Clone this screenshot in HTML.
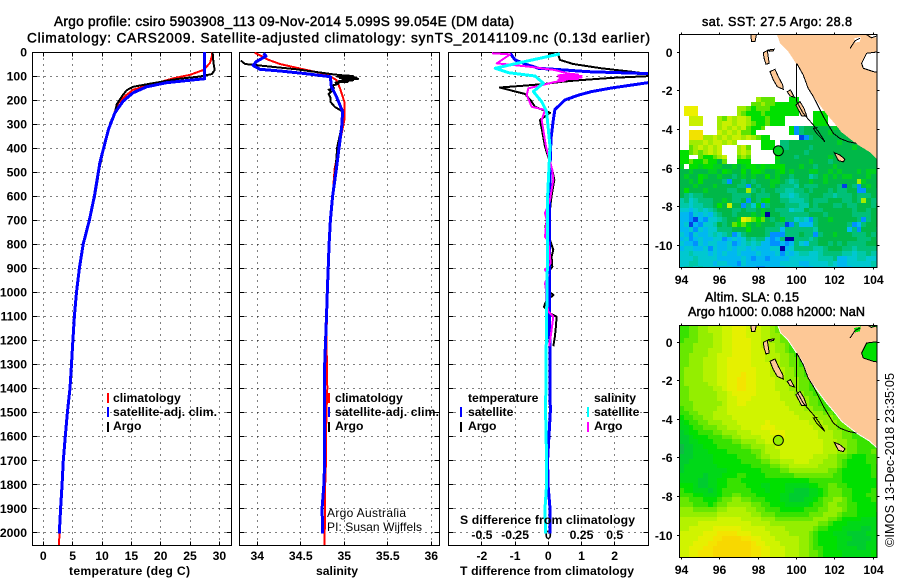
<!DOCTYPE html>
<html>
<head>
<meta charset="utf-8">
<title>Argo profile csiro 5903908_113</title>
<style>
html,body{margin:0;padding:0;background:#fff;width:900px;height:580px;overflow:hidden}
svg{display:block}
text{font-family:"Liberation Sans",sans-serif;fill:#000}
.b{font-weight:bold;font-size:12.2px}
.t{font-size:13.6px;stroke:#000;stroke-width:.45px}
.r{font-size:12px}
</style>
</head>
<body>
<svg id="chart" xmlns="http://www.w3.org/2000/svg" width="900" height="580" viewBox="0 0 900 580">
<defs>
<clipPath id="clip-temp"><rect x="32" y="52" width="199" height="493"/></clipPath>
<clipPath id="clip-sal"><rect x="239" y="52" width="200" height="493"/></clipPath>
<clipPath id="clip-diff"><rect x="448" y="52" width="200" height="493"/></clipPath>
<clipPath id="clip-map1"><rect x="679" y="34" width="198" height="233"/></clipPath>
<clipPath id="clip-map2"><rect x="679" y="325" width="198" height="232"/></clipPath>
</defs>
<g id="layer-maps"></g>
<g id="layer-panels"></g>

<text class="t" x="54" y="26" textLength="460">Argo profile: csiro 5903908_113 09-Nov-2014 5.099S 99.054E (DM data)</text>
<text class="t" x="27" y="42.5" textLength="623">Climatology: CARS2009. Satellite-adjusted climatology: synTS_20141109.nc (0.13d earlier)</text>

<text class="b" x="69" y="575" textLength="121">temperature (deg C)</text>
<text class="b" x="316" y="575" textLength="42">salinity</text>
<text class="b" x="460" y="575" textLength="174">T difference from climatology</text>
<text class="b" x="460" y="524" textLength="175">S difference from climatology</text>

<g>
<rect x="107" y="393" width="2" height="10" fill="#f00"/>
<rect x="107" y="407" width="2" height="10" fill="#00f"/>
<rect x="107" y="422" width="2" height="10" fill="#000"/>
<text class="b" x="113" y="402">climatology</text>
<text class="b" x="113" y="416" textLength="104">satellite-adj. clim.</text>
<text class="b" x="113" y="430">Argo</text>
</g>
<g>
<rect x="328" y="393" width="2" height="10" fill="#f00"/>
<rect x="328" y="407" width="2" height="10" fill="#00f"/>
<rect x="328" y="422" width="2" height="10" fill="#000"/>
<text class="b" x="335" y="402">climatology</text>
<text class="b" x="335" y="416" textLength="104">satellite-adj. clim.</text>
<text class="b" x="335" y="430">Argo</text>
</g>
<g>
<text class="b" x="468" y="402">temperature</text>
<rect x="460" y="407" width="2" height="10" fill="#00f"/>
<rect x="460" y="422" width="2" height="10" fill="#000"/>
<text class="b" x="468" y="416">satellite</text>
<text class="b" x="468" y="430">Argo</text>
<text class="b" x="594" y="402">salinity</text>
<rect x="587" y="407" width="2" height="10" fill="#0ff"/>
<rect x="587" y="422" width="2" height="10" fill="#f0f"/>
<text class="b" x="594" y="416">satellite</text>
<text class="b" x="594" y="430">Argo</text>
</g>
<text class="r" x="327" y="517" textLength="79">Argo Australia</text>
<text class="r" x="327" y="531" textLength="95">PI: Susan Wijffels</text>

<text class="t" style="font-size:12.6px" x="702" y="26" textLength="150">sat. SST: 27.5 Argo: 28.8</text>
<text class="t" style="font-size:12.6px" x="705" y="301.5" textLength="94">Altim. SLA: 0.15</text>
<text class="t" style="font-size:12.6px" x="688" y="316" textLength="177">Argo h1000: 0.088 h2000: NaN</text>
<text style="font-size:12.6px" transform="translate(894,547) rotate(-90)" textLength="174">©IMOS 13-Dec-2018 23:35:05</text>
</svg>

<script>
// ---------- profile data ----------
const depthTicks = [0,100,200,300,400,500,600,700,800,900,1000,1100,1200,1300,1400,1500,1600,1700,1800,1900,2000];
const tempTicks = [0,5,10,15,20,25,30];
const salTicks = [34,34.5,35,35.5,36];
const salTickLabels = ['34','34.5','35','35.5','36'];
const diffTicks = [-2,-1,0,1,2];
const diffTickLabels = ['-2','-1','0','1','2'];
const sDiffTicks = [-0.5,-0.25,0,0.25,0.5];
const sDiffTickLabels = ['-0.5','-0.25','0','0.25','0.5'];

const tempClimDepth = [0,18,46,75,95,110,137,157,184,212,260,322,460,600,700,800,900,1000,1100,1200,1300,1400,1500,1600,1700,1800,1900,2000,2053];
const tempClim = [28.7,28.7,28.4,27.25,25,22.1,18.2,15.3,13.9,12.8,12,11.1,9.65,8.7,7.85,6.8,6.15,5.65,5.3,5.05,4.8,4.55,4.1,3.75,3.4,3.2,2.95,2.75,2.7];
const tempArgoDepth = [0,18,46,75,92,102,113,132,145,159,184,218,253,295,350,475,600,700,800,900,1000,1100,1225];
const tempArgo = [28.85,28.9,29,29.2,28.7,26.7,22.7,18.2,15.3,14.2,13.4,12.5,12.2,11.4,10.8,9.65,8.8,7.85,6.8,6.15,5.65,5.3,5.05];
const tempSatDepth = [0,111,128,145,170,205,253,322,460,600,700,800,900,1000,1100,1200,1300,1400,1500,1600,1700,1800,1900,2005];
const tempSat = [27.5,27.5,21,17.6,15.3,13.6,12.2,11.1,9.65,8.7,7.85,6.8,6.15,5.65,5.3,5.05,4.8,4.55,4.1,3.75,3.4,3.2,2.95,2.72];

const salClimDepth = [3,33,50,72,93,117,151,207,283,339,484,600,700,800,900,1000,1100,1200,1300,1400,1500,1600,1700,1800,1900,2000,2053];
const salClim = [33.97,34.13,34.26,34.53,34.8,34.91,34.95,35,35,34.97,34.89,34.865,34.845,34.83,34.815,34.81,34.8,34.795,34.8,34.805,34.795,34.79,34.79,34.78,34.78,34.775,34.77];
const salArgoDepth = [36,50,72,93,96,100,103,106,109,112,115,118,121,124,127,133,140,150,157,165,175,190,207,228,248,311,394,484,600,700,800,900,1000,1100,1225];
const salArgo = [33.81,33.86,34.45,34.87,34.95,35.1,34.92,35.14,34.95,35.16,34.98,35.1,34.94,35.04,34.9,34.93,34.86,34.88,34.82,34.85,34.82,34.84,34.84,34.89,34.98,34.97,34.92,34.9,34.865,34.84,34.825,34.815,34.805,34.795,34.79];
const salSatDepth = [5,17,40,56,72,79,89,103,144,186,248,311,484,600,700,800,900,1000,1100,1200,1300,1400,1500,1600,1700,1800,1900,2005];
const salSat = [34.07,34.1,33.99,33.95,34.03,34.26,34.53,34.84,34.85,34.91,34.98,34.97,34.91,34.865,34.84,34.825,34.815,34.805,34.795,34.785,34.775,34.77,34.775,34.775,34.775,34.765,34.745,34.75];

const diffTArgoDepth = [5,12,33,50,68,82,93,100,108,118,124,133,140,148,152,175,207,228,253,283,318,394,491,533,574,616,658,699,727,755,782,824,852,894,907,935,963,991,1012,1039,1060,1088,1102,1143,1185,1225];
const diffTArgo = [0,.3,.35,.75,1.6,2.5,3.1,3.1,1.9,.9,.4,-.1,-.7,-1.46,-1.35,-.7,-.5,-.4,.05,-.25,-.2,-.1,.12,.18,.13,.08,.05,-.03,-.09,0,.05,.15,.1,.12,.05,0,-.07,-.03,.15,-.07,-.13,.05,.25,.23,.2,.15];
const diffTSatDepth = [5,33,50,68,75,82,90,95,125,128,150,165,180,200,240,283,360,484,700,1000,1300,1500,1700,1800,1900,2005];
const diffTSat = [-1.15,-1,-.7,-.3,.5,1.2,3,3.2,3.2,3,1.9,1.3,.9,.5,.2,.15,.08,.05,.04,.03,.05,.06,-.02,-.01,.05,.05];
const diffSArgoDepth = [5,10,47,61,75,90,94,97,100,103,106,109,112,115,119,125,151,179,228,241,283,394,491,533,574,616,671,699,769,790,824,880,907,928,963,991,1032,1081,1102,1157,1225];
const diffSArgo = [-1.7,-1.15,-1.55,-.6,.2,.6,.9,.3,1,.3,1,.35,.9,.3,.5,.2,-.6,-.65,-.5,-.1,-.2,-.07,.12,.15,.1,.05,-.1,-.05,-.1,0,.03,.07,-.1,0,-.1,-.07,-.07,0,.15,.1,.03];
const diffSSatDepth = [8,44,68,86,100,130,165,207,248,394,600,900,1200,1500,1700,1800,1900,2005];
const diffSSat = [.35,-.85,-1.6,-1.2,-.4,-.15,-.45,-.2,-.05,.05,-.02,-.03,-.06,-.08,-.05,-.05,-.1,-.08];

// ---------- map data: rows north to south, 0.25 degree cells, letters are colour levels ----------
const sstLevels = {o:'#f2e200',a:'#ecf000',b:'#c8f000',c:'#a0ec00',d:'#60e400',e:'#00e000',f:'#00d020',g:'#00b848',h:'#00c078',i:'#00c8a8',j:'#00c8d0',k:'#00b8f0',l:'#0090ff',m:'#0040e8',n:'#0000a0'};
const sstRows = ['','','','','','','','','','','','','',
"................cddd...ee.",
"...............ddcddeeeee.",
".aaa........ccdedddeeeeee.",
".aaa........cdeeedeeeeeee...eee.",
"..bbb...cdbcbbceeedeee......eee.",
"..bbb...cbbcbbcdeedeee......eee.",
"........cbcbcbdeed.....elhggggggfg.",
"..ooo...bcbcbdde.......elhgggggfggg.",
"..oooccbcbcbbcbcdee......mlhggggggggfggg.",
"..cccbcbbcbc.....eee.hhggggggggggfgggggggg",
"..dcbcbcb...cbd..eee.hhgggghggggggggfgggggg",
"eedcdcbcb...cbc.....eggggghgggggggggggggggg",
"ee..deedcb..dcd.....eggghggggggfggggggggggg",
"eedeedeegd..eee.....fggggggfggghggggggggggg",
"f.eefeeffggfgfeefefeeegggfgghgggfgggggggggg",
"ggfgggffgefggegeefggfegfgggffggfgfgggfgffggg",
"gfggefggfgghgfgfggegfgghgggihgfgfgffgggfgggg",
"ggfgegggghlgghghgggffghihggfggfggggggcfggggg",
"gggfgggfgggghhlghggfghhhighhhgggghmghlgfgggg",
"gegggfgggghhggchghgghhiihhghggghghhggllgghgg",
"ghihhgggggghhhhghhhggiijihhggghhihhhghhhghgg",
"ihjihhhggfghhglghfegghhiiihghhhggghhghcghhfg",
"iijiihhgegbgglhjflhggghhhiighggghhghhggghgee",
"jjkjijihggghhghhgfgghhhjiighhhgggggghgghggee",
"kkljkjkihgghgggfgfngghhhhhhggghggggghhhhgggg",
"kklmkljjihggfabdedghgfhhjijlhggfggggghlhgggg",
"kjmkljjighgdedfgfggghhmlhkkkhgggggghlkhggggg",
"kkjljkjjhhhgggeggghhhkhhhhhhiggggggkhlggghgg",
"jkljkkjijihljhgggghlllhhhghhlhggfggghhhghggg",
"kjlkjkkjjlkjkjhihhklkhnnhhhihgggggggghhhghhh",
"jkkljkjjkkjlkjijikkllklkhjkhhgghghghhhhggggg",
"kjjkkjljkkjkjjkjkkkjjnkjhhhhiihggghhihhhhhhh",
"jjijjjkjkjkkjkkkjkkkjljkjiijjihhhhiijiihijjj",
"jjjijjjjkkkkkjklkklkkkkjjjjjjiiihkkjjiijjjjj",
"jjiijjjkjjkkljkkkkkkkjjjjkkjjjjijkkjjjjjijjj",
"jiijijjjkkjkkkkkllkkkkjjjjkkjjjjjkkkjjjjiiii"
];
const slaLevels = {A:'#f8d800',B:'#f4e400',C:'#e6f000',D:'#d0f400',E:'#b4f200',F:'#94ee00',G:'#68e800',H:'#38e200',I:'#00e000',J:'#00d818',K:'#00cc30',L:'#10b848'};
const slaRows = [
"HHGGFFEEEDDCCCDDDEEFGGHHHHHHHHHHHHHHIIIIIIII",
"HHGGFFEEEDDCCCDDDEEFGGHHHHHHHHHHHHHHIIIIIIII",
"HHGGFFFEEDDCCCDDDEEFFGHHHHHHHHHHHHHHIIIIIIII",
"HGGGFFFEEDDCCCCDDEEFFGGHHHHHHHHHHHHHIIIIIIII",
"GGGFFFFEEDDCCCCDDEEEFFGHHHHHHHHHHHHHIIIIIIII",
"GGGFFFEEEDDCCCCDDDEEFFGHHHHHHHHHHHHHIIIIIIII",
"GGFFFFEEDDDCCCCDDDEEEFFGHHHHHHHHHHHHIIIIIIII",
"GGFFFEEEDDCCCCCDDDEEEFFGGHHHHHHHHHHHIIIIIIII",
"GGFFFEEEDDCCCCCDDDDEEFFGGHHHHHHHHHHHHHHHHHHH",
"GFFFFEEEDDCCCCCCDDDEEEFFGGH",
"GFFFFEEEDDCCCBCCDDDEEEFFGGH",
"GFFFFEEEDDCCBBCCDDDDEEFFFGGH",
"GFFFFFEEDDCCBBCCDDDDEEEFFGGH",
"GGFFFFFEEDCCBBCCDDDDEEEFFGGHH",
"GGFFFFFFEEDCCCCCDDDDDEEEFFGGHH",
"GGFFFFFFEEDDCCCDDDDDDEEEEFFGGH",
"GGGFFFFFFEDDCCDDDDDDDDEEEFFGGHH",
"HGGFFFFFEEDDDDDDDDDDDDDEEEFFGGHH",
"HHGGFFFEEEDDDDDDDDDDDDDDEEEEFFGGHH",
"IHHGGFFEEEEDDDDDDDDDDDDDDEEEEFFFGGHH",
"JIHHGGFFFEEEDDDDDDCDDDDDDDDEEEFFFGGHHH",
"JJIHHGGGFFEEEDDDDCCCDDDDDDDDEEEFFGGGHHHH",
"KJIIHHHGGFFFEEEDDDDCCCDDDDDDDEEEFFGGHHHIIH",
"KKJIIIHHHGGFFEEEEDDDDCDDDDDDDEEEFFGGHHHHHHGG",
"KKJJIIIHHHHGGFFFEEDDDDDDDDDDDDEEEFFGGHHHGGF",
"LKKJJIIIHHHHHGGFFFEEDDDDDDDDDDEEEFFGGHHHHGFFE",
"LKKJJJIIIIHHHHHGGFEEEDDDDDDDDDEEEFFGGHHHGGFE",
"KKKJJJJIIIIIHHHHGFFEEDDDDDDDEEEFFGGHIIIHHGFE",
"KKJJJJJIIIIIIHHHHGGFFEEEDDDEEEFFFGHIIIIHHGGF",
"KJJJJJJJIIIIIIIHHHHGGFFEEEEEEFFFFGHIIIIIHHGGF",
"KJJJJJJJJJIIIIIIIHHHHGGFFFFFFFFGGHIIIIIIHHGG",
"JJJJJKJJJIIIHHIIIIHHHHHHGGGGGGGGHHIIIIIIHHGG",
"JJJJKKJJIIHHHIIIIIIIIIIIIIIHHHHHHHIIIIIIIHHH",
"IIIJKKJJIIHHHHIIIJJIIIJJJJJIIHHGGHHIIIIIIHHG",
"HIIJJJKJIHHHHHHIIIJIIIJJKKKJJIHGGGHHIIIIHHGG",
"HHHIIJJJIHHGGHHHIIIIIJJKKKKJJIHGGGHHIIIHHHGG",
"GGHHHIIIHGGFFGGHHHIIIJJKKKJJIHGGFFGHIIIIHHHG",
"GGGHHHIHGGFFFFFGGHHIIIJJJJJIHHGFFGGHHIIIIHHH",
"FFFGGGGGFFEEEEFFGGHHHIIIIIHHHGGFFFGHHIIIIHHH",
"FFFFFFFFEEEEEEEFFGGGHHHHHHHGGGFFFGHHHIIIIIHH",
"EEEEEEEEDDDDDEEEEFFFGGGGGGGGFFFGGHIIIIJJJIIH",
"EEEEDDDDDDDDDDDEEEEFFFFFFFFFFGGHIIIJJJJJJIIH",
"EEDDDDDCCCCCCDDDDDEEEEFFFFFFGHHIIIJJJJKKJJIH",
"DDDDDCCCBBBBCCCDDDDEEEEFFFFGHIIIJJJKKKKJJIH",
"DDDDCCCBBAAAABBCCDDDEEEEEFFGHIIIIJJJKKKKJJI",
"DDDCCCBBAAAAAAABCCDDDEEEEFFGHIIIIJJKKKKJJJI",
"DDCCCBBAAAAAAAABBCCDDDEEEFFGHHIIIJJJJKKJJII",
"DDCCBBBAAAAAAAABBCCDDDEEEFFGGHIIIIJJJJJJIII",
"DDCCBBBAAAAAAAABBCCDDDEEEFFGGHIIIIJJJJJJIII"
];
const mapLonTicks = [94,96,98,100,102,104];
const mapLatTicks = [0,-2,-4,-6,-8,-10];
const floatLon = 99.054;
const floatLat = -5.099;

// coast shapes as lon,lat pairs
const mainlandCoast = [[99,.95],[99.17,.47],[99.57,.09],[100,-.57],[100.35,-1.09],[100.61,-1.87],[101.05,-2.47],[101.57,-3.16],[102.09,-3.77],[102.35,-4.11],[103.13,-4.72],[103.83,-5.15],[104.19,-5.49],[104.3,-5.49],[104.3,.95]];
const straitCoast = [[104.3,.03],[103.65,-.05],[103.39,-.57],[103.48,-.83],[104,-1],[104.3,-1.05]];
const northWaterPatches = [
 [[103.0,.72],[103.35,.8],[103.3,.55],[103.05,.5]],
 [[103.75,.95],[104.25,.95],[104.25,.75],[103.9,.8]]
];
const islandShapes = [
 [[98.62,-1],[98.88,-.88],[99.05,-1.26],[99.28,-1.69],[99.31,-1.92],[99,-1.78],[98.79,-1.43]],
 [[99.52,-2.04],[99.69,-1.95],[99.89,-2.33],[99.66,-2.26]],
 [[99.97,-2.73],[100.18,-2.56],[100.39,-2.9],[100.53,-3.3],[100.27,-3.3]],
 [[98.27,-.02],[98.48,.09],[98.58,-.57],[98.41,-.62],[98.31,-.31]],
 [[97.61,.95],[97.92,.95],[97.84,.55],[97.66,.55]],
 [[98.53,.12],[98.84,.16],[98.79,.07],[98.58,.05]],
 [[101.97,-5.2],[102.26,-5.32],[102.52,-5.54],[102.44,-5.68],[102.18,-5.61]]
];
const contourLines = [
 [[100.01,-.57],[100.01,-2.56]],
 [[100.01,-.57],[100.35,-1.17],[100.61,-1.87],[100.88,-2.3],[101.19,-2.9],[101.4,-3.33],[101.66,-3.77],[101.92,-4.2],[102.26,-4.46],[102.7,-4.63],[103.13,-4.72]],
 [[100.01,-2.56],[100.35,-3.16],[100.88,-3.77],[101.14,-4.11],[101.48,-4.63],[101.05,-4.2],[100.88,-3.94],[101.1,-3.9]],
 [[103.31,.73],[103.05,.6],[102.79,.2]],
 [[103.6,.95],[103.9,.75],[104.2,.85]]
];

// ---------- drawing ----------
const NS = 'http://www.w3.org/2000/svg';
const maps = document.getElementById('layer-maps');
const panels = document.getElementById('layer-panels');
function yDepth(d){return 52+0.24015*d;}
function xTemp(t){return 43.3+5.87*t;}
function xSal(s){return 344.3+87*(s-35);}
function xDiff(v){return 548.3+33.2*v;}
function xSDiff(v){return 548.3+132.8*v;}
function snap(v){return Math.round(v-.5)+.5;}

function seg(parent,x1,y1,x2,y2,dash,name){
  const el=document.createElementNS(NS,'line');
  el.setAttribute('x1',x1);el.setAttribute('y1',y1);el.setAttribute('x2',x2);el.setAttribute('y2',y2);
  el.setAttribute('stroke','#000');el.setAttribute('stroke-width','1');el.setAttribute('shape-rendering','crispEdges');
  if(dash)el.setAttribute('stroke-dasharray',dash);
  
  
  parent.appendChild(el);
}
function label(parent,x,y,str,anchor,name){
  const el=document.createElementNS(NS,'text');
  el.setAttribute('x',x);el.setAttribute('y',y);el.setAttribute('class','b');el.setAttribute('text-anchor',anchor);
  el.textContent=str;
  
  
  parent.appendChild(el);
}
function frame(parent,x,y,w,h,name){
  const el=document.createElementNS(NS,'rect');
  el.setAttribute('x',x);el.setAttribute('y',y);el.setAttribute('width',w);el.setAttribute('height',h);
  el.setAttribute('fill','none');el.setAttribute('stroke','#000');el.setAttribute('shape-rendering','crispEdges');
  
  
  parent.appendChild(el);
}
function profile(parent,depths,vals,xf,color,width,clip,name){
  const el=document.createElementNS(NS,'polyline');
  el.setAttribute('points',depths.map((d,i)=>xf(vals[i]).toFixed(1)+','+yDepth(d).toFixed(1)).join(' '));
  el.setAttribute('fill','none');el.setAttribute('stroke',color);el.setAttribute('stroke-width',width);
  el.setAttribute('stroke-linejoin','round');el.setAttribute('shape-rendering','crispEdges');
  el.setAttribute('clip-path','url(#'+clip+')');
  
  
  parent.appendChild(el);
}
function panelAxes(left,right,xTickPositions,name){
  const g=document.createElementNS(NS,'g');
  
  
  panels.appendChild(g);
  const top=52.5,bottom=545.5;
  xTickPositions.forEach(px=>{
    const x=snap(px);
    seg(g,x,top,x,bottom,'1 5','vertical-gridline');
    seg(g,x,top,x,top+4,null,'x-tick');
    seg(g,x,bottom-4,x,bottom,null,'x-tick');
  });
  depthTicks.forEach(d=>{
    const y=snap(yDepth(d));
    seg(g,left,y,right,y,'1 5','horizontal-gridline');
    seg(g,left,y,left+5,y,null,'y-tick');
    seg(g,right-5,y,right,y,null,'y-tick');
  });
  frame(g,left,top,right-left,bottom-top,'panel-frame');
  return g;
}

// temperature panel
const gT=panelAxes(32.5,231.5,tempTicks.map(xTemp),'temperature-panel');
depthTicks.forEach(d=>label(gT,27,yDepth(d)+4.5,String(d),'end','depth-tick-label'));
tempTicks.forEach(t=>label(gT,xTemp(t),560,String(t),'middle','temperature-tick-label'));
profile(gT,tempClimDepth,tempClim,xTemp,'#f00',2,'clip-temp','temperature-climatology-line');
profile(gT,tempArgoDepth,tempArgo,xTemp,'#000',2,'clip-temp','temperature-argo-line');
profile(gT,tempSatDepth,tempSat,xTemp,'#00f',3,'clip-temp','temperature-satellite-line');

// salinity panel
const gS=panelAxes(239.5,439.5,salTicks.map(xSal),'salinity-panel');
salTicks.forEach((s,i)=>label(gS,xSal(s),560,salTickLabels[i],'middle','salinity-tick-label'));
profile(gS,salClimDepth,salClim,xSal,'#f00',2,'clip-sal','salinity-climatology-line');
profile(gS,salArgoDepth,salArgo,xSal,'#000',2,'clip-sal','salinity-argo-line');
profile(gS,salSatDepth,salSat,xSal,'#00f',3,'clip-sal','salinity-satellite-line');

// difference panel
const gD=panelAxes(448.5,648.5,diffTicks.map(xDiff),'difference-panel');
diffTicks.forEach((v,i)=>label(gD,xDiff(v),560,diffTickLabels[i],'middle','t-difference-tick-label'));
sDiffTicks.forEach((v,i)=>label(gD,xSDiff(v),539,sDiffTickLabels[i],'middle','s-difference-tick-label'));
profile(gD,diffTArgoDepth,diffTArgo,xDiff,'#000',2,'clip-diff','t-difference-argo-line');
profile(gD,diffTSatDepth,diffTSat,xDiff,'#00f',3,'clip-diff','t-difference-satellite-line');
profile(gD,diffSArgoDepth,diffSArgo,xDiff,'#f0f',2,'clip-diff','s-difference-argo-line');
profile(gD,diffSSatDepth,diffSSat,xDiff,'#0ff',3,'clip-diff','s-difference-satellite-line');

// maps
function drawMap(rows,levels,yZero,top,bottom,clip,circleFill,stripFill,coastHalo,cellName,mapName){
  const g=document.createElementNS(NS,'g');
  
  
  maps.appendChild(g);
  const xm=lon=>681.3+19.2*(lon-94);
  const ym=lat=>yZero-19.3*lat;
  const cells=document.createElementNS(NS,'g');
  cells.setAttribute('clip-path','url(#'+clip+')');
  cells.setAttribute('shape-rendering','crispEdges');
  g.appendChild(cells);
  rows.forEach((row,r)=>{
    for(let c=0;c<42&&row.length;c++){
      const ch=row[Math.min(c,row.length-1)];
      if(ch==='.'||!levels[ch])continue;
      const x0=Math.round(xm(93.875+.25*c)),x1=Math.round(xm(93.875+.25*(c+1)));
      const y0=Math.round(ym(.95-.25*r)),y1=Math.round(ym(.95-.25*(r+1)));
      const el=document.createElementNS(NS,'rect');
      el.setAttribute('x',x0);el.setAttribute('y',y0);el.setAttribute('width',x1-x0);el.setAttribute('height',y1-y0);
      el.setAttribute('fill',levels[ch]);
      
      
      cells.appendChild(el);
    }
  });
  const pts=a=>a.map(p=>xm(p[0]).toFixed(1)+','+ym(p[1]).toFixed(1)).join(' ');
  const shapes=document.createElementNS(NS,'g');
  shapes.setAttribute('clip-path','url(#'+clip+')');
  shapes.setAttribute('shape-rendering','crispEdges');
  g.appendChild(shapes);
  const land=document.createElementNS(NS,'polygon');
  land.setAttribute('points',pts(mainlandCoast));
  land.setAttribute('fill','#fdc896');
  land.setAttribute('stroke',coastHalo);
  
  
  shapes.appendChild(land);
  const strait=document.createElementNS(NS,'polygon');
  strait.setAttribute('points',pts(straitCoast));
  strait.setAttribute('fill',stripFill);
  strait.setAttribute('stroke','#fff');
  
  
  shapes.appendChild(strait);
  northWaterPatches.forEach(s=>{
    const el=document.createElementNS(NS,'polygon');
    el.setAttribute('points',pts(s));
    el.setAttribute('fill',stripFill);
    
    
    shapes.appendChild(el);
  });
  const straitEdge=document.createElementNS(NS,'polyline');
  straitEdge.setAttribute('points',pts(straitCoast));
  straitEdge.setAttribute('fill','none');
  straitEdge.setAttribute('stroke','#000');
  
  
  shapes.appendChild(straitEdge);
  islandShapes.forEach(s=>{
    const el=document.createElementNS(NS,'polygon');
    el.setAttribute('points',pts(s));
    el.setAttribute('fill','#fdc896');
    el.setAttribute('stroke','#000');
    
    
    shapes.appendChild(el);
  });
  contourLines.forEach(s=>{
    const el=document.createElementNS(NS,'polyline');
    el.setAttribute('points',pts(s));
    el.setAttribute('fill','none');
    el.setAttribute('stroke','#000');
    
    
    shapes.appendChild(el);
  });
  const dot=document.createElementNS(NS,'circle');
  dot.setAttribute('cx',xm(floatLon));dot.setAttribute('cy',ym(floatLat));dot.setAttribute('r','5');
  dot.setAttribute('fill',circleFill);dot.setAttribute('stroke','#000');
  
  
  g.appendChild(dot);
  frame(g,679.5,top,197.5,bottom-top,'map-frame');
  mapLonTicks.forEach(lon=>{
    const x=snap(xm(lon));
    seg(g,x,top-2,x,top,null,'longitude-tick');
    seg(g,x,bottom,x,bottom+2,null,'longitude-tick');
    label(g,x,bottom+16.5,String(lon),'middle','longitude-tick-label');
  });
  mapLatTicks.forEach(lat=>{
    const y=snap(ym(lat));
    seg(g,677,y,679.5,y,null,'latitude-tick');
    seg(g,877,y,879.5,y,null,'latitude-tick');
    label(g,672.5,y+4.5,String(lat),'end','latitude-tick-label');
  });
}
drawMap(sstRows,sstLevels,52.3,34.5,267.5,'clip-map1','#00d020','#fff','#fdc896','sst-cell','sst-map');
drawMap(slaRows,slaLevels,342,325.5,557.5,'clip-map2','#94ee00','#00e000','#fff','sla-cell','sla-map');
</script>
</body>
</html>
